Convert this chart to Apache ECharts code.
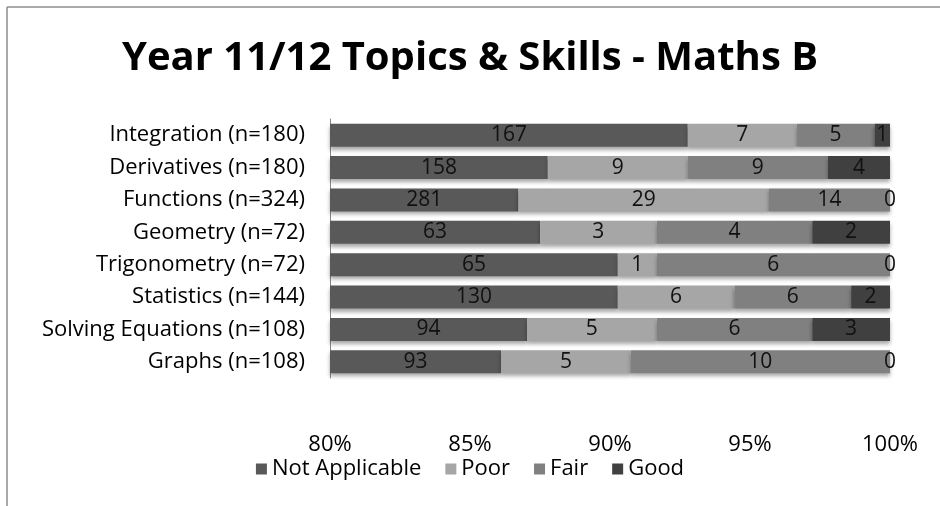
<!DOCTYPE html>
<html>
<head>
<meta charset="utf-8">
<script src="https://cdn.jsdelivr.net/npm/echarts@6/dist/echarts.min.js"></script>
<style>
  html, body { margin: 0; padding: 0; background: #fff; }
  #chart { width: 940px; height: 506px; }
</style>
</head>
<body>
<div id="chart"></div>
<script>
var topics = ['Integration (n=180)', 'Derivatives (n=180)', 'Functions (n=324)', 'Geometry (n=72)',
  'Trigonometry (n=72)', 'Statistics (n=144)', 'Solving Equations (n=108)', 'Graphs (n=108)'];
var notApplicable = [167, 158, 281, 63, 65, 130, 94, 93];
var poor = [7, 9, 29, 3, 1, 6, 5, 5];
var fair = [5, 9, 14, 4, 6, 6, 6, 10];
var good = [1, 4, 0, 2, 0, 2, 3, 0];
var xTicks = [80, 85, 90, 95, 100];

var font = 'Open Sans';
var totals = topics.map(function (t, i) {
  return notApplicable[i] + poor[i] + fair[i] + good[i];
});

function pct(arr) {
  return arr.map(function (v, i) { return v / totals[i] * 100; });
}

function makeSeries(name, counts, color) {
  return {
    name: name,
    type: 'bar',
    stack: 'all',
    barWidth: 23,
    data: pct(counts),
    itemStyle: {
      color: color,
      shadowColor: 'rgba(0,0,0,0.35)',
      shadowBlur: 4,
      shadowOffsetY: 3
    },
    label: {
      show: true,
      position: 'inside',
      color: '#111',
      fontFamily: font,
      fontSize: 21,
      formatter: function (p) { return counts[p.dataIndex]; }
    }
  };
}

var chart = echarts.init(document.getElementById('chart'));
chart.setOption({
  animation: false,
  title: {
    text: 'Year 11/12 Topics & Skills - Maths B',
    left: 'center',
    top: 34,
    textStyle: { fontFamily: font, fontSize: 40, fontWeight: 'bold', color: '#000' }
  },
  graphic: [
    { type: 'line', shape: { x1: 7, y1: 7, x2: 940, y2: 7 }, style: { stroke: '#8c8c8c', lineWidth: 1.5 } },
    { type: 'line', shape: { x1: 7, y1: 7, x2: 7, y2: 506 }, style: { stroke: '#8c8c8c', lineWidth: 1.5 } }
  ],
  legend: {
    bottom: 21,
    left: 'center',
    itemWidth: 11,
    itemHeight: 11,
    itemGap: 24,
    icon: 'rect',
    textStyle: { fontFamily: font, fontSize: 22, color: '#000' },
    data: ['Not Applicable', 'Poor', 'Fair', 'Good']
  },
  grid: { left: 330, right: 50, top: 119, bottom: 128, containLabel: false },
  xAxis: {
    type: 'value',
    min: xTicks[0],
    max: xTicks[xTicks.length - 1],
    interval: 5,
    axisLine: { show: false },
    axisTick: { show: false },
    splitLine: { show: false },
    axisLabel: {
      margin: 56,
      color: '#000',
      fontFamily: font,
      fontSize: 22,
      formatter: '{value}%'
    }
  },
  yAxis: {
    type: 'category',
    inverse: true,
    data: topics,
    axisLine: { show: true, lineStyle: { color: '#868686' } },
    axisTick: { show: false },
    axisLabel: { margin: 25, color: '#000', fontFamily: font, fontSize: 22 }
  },
  series: [
    makeSeries('Not Applicable', notApplicable, '#595959'),
    makeSeries('Poor', poor, '#a6a6a6'),
    makeSeries('Fair', fair, '#808080'),
    makeSeries('Good', good, '#404040')
  ]
});
</script>
</body>
</html>
